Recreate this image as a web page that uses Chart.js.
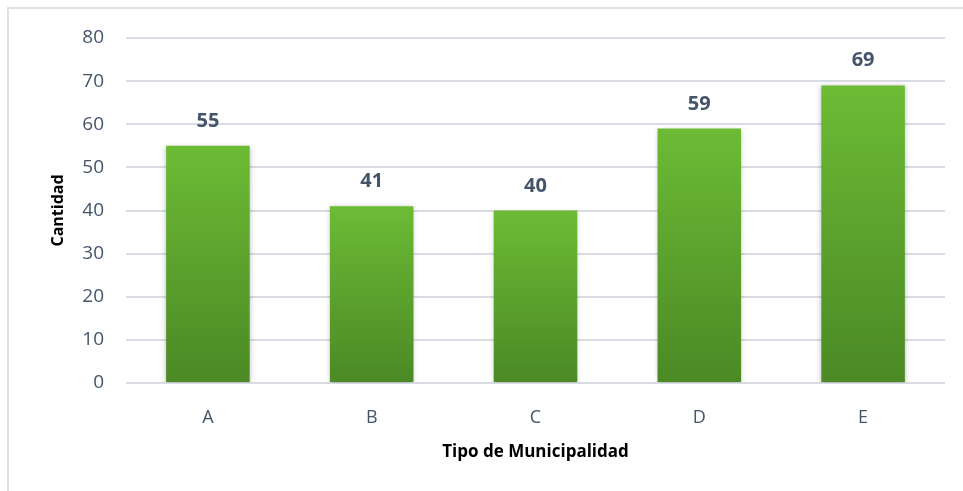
<!DOCTYPE html>
<html>
<head>
<meta charset="utf-8">
<script src="https://cdn.jsdelivr.net/npm/chart.js@4"></script>
<style>
  body { margin: 0; background: #fff; }
  #wrap { position: relative; width: 963px; height: 491px; }
  #frame { position: absolute; left: 7px; top: 7px; width: 980px; height: 500px;
           border-left: 2px solid #dde1e6; border-top: 2px solid #dde1e6; pointer-events: none; }
</style>
</head>
<body>
<div id="wrap">
  <canvas id="myChart" width="963" height="491"></canvas>
  <div id="frame"></div>
</div>
<script>
const categories = ['A', 'B', 'C', 'D', 'E'];
const values = [55, 41, 40, 59, 69];
const yTicks = [0, 10, 20, 30, 40, 50, 60, 70, 80];

const labelColor = '#44546A';

// gradient per bar, light on top, darker at the base
function barGradient(context) {
    const chart = context.chart;
    const yScale = chart.scales.y;
    if (!chart.chartArea || !yScale) return '#5fa52e';
    const top = yScale.getPixelForValue(values[context.dataIndex]);
    const bottom = yScale.getPixelForValue(0);
    const g = chart.ctx.createLinearGradient(0, top, 0, bottom);
    g.addColorStop(0, '#6cbb35');
    g.addColorStop(1, '#4b8925');
    return g;
}

const barShadow = {
    id: 'barShadow',
    beforeDatasetsDraw(chart) {
        const ctx = chart.ctx;
        ctx.save();
        ctx.shadowColor = 'rgba(0,0,0,0.28)';
        ctx.shadowBlur = 5;
        ctx.shadowOffsetX = 0;
        ctx.shadowOffsetY = 1;
    },
    afterDatasetsDraw(chart) {
        chart.ctx.restore();
    }
};

const valueLabels = {
    id: 'valueLabels',
    afterDraw(chart) {
        const ctx = chart.ctx;
        const meta = chart.getDatasetMeta(0);
        ctx.save();
        ctx.fillStyle = labelColor;
        ctx.font = 'bold 20px "Open Sans"';
        ctx.textAlign = 'center';
        ctx.textBaseline = 'alphabetic';
        meta.data.forEach((bar, i) => {
            ctx.fillText(String(values[i]), bar.x, bar.y - 19);
        });
        ctx.restore();
    }
};

new Chart(document.getElementById('myChart').getContext('2d'), {
    type: 'bar',
    data: {
        labels: categories,
        datasets: [{
            label: 'Cantidad',
            data: values,
            backgroundColor: barGradient,
            borderWidth: 0,
            categoryPercentage: 1,
            barPercentage: 0.51
        }]
    },
    options: {
        responsive: false,
        animation: false,
        devicePixelRatio: 1,
        layout: { padding: { top: 38, right: 18, left: 0, bottom: 0 } },
        plugins: {
            legend: { display: false },
            tooltip: { enabled: false }
        },
        scales: {
            x: {
                grid: { display: false, drawTicks: false },
                border: { display: false },
                ticks: { color: labelColor, font: { family: 'Open Sans', size: 18 }, padding: 24 },
                title: {
                    display: true,
                    text: 'Tipo de Municipalidad',
                    color: '#000',
                    font: { family: 'Open Sans', size: 17, weight: 'bold' },
                    padding: { top: 29, bottom: 29 }
                },
                afterFit(scale) { scale.height = 108; }
            },
            y: {
                z: 1,
                min: 0,
                max: 80,
                afterBuildTicks(scale) { scale.ticks = yTicks.map(v => ({ value: v })); },
                grid: { color: '#d9dde3', lineWidth: 2, drawTicks: false },
                border: { display: false },
                ticks: { color: labelColor, font: { family: 'Open Sans', size: 19 }, padding: 22 },
                title: {
                    display: true,
                    text: 'Cantidad',
                    color: '#000',
                    font: { family: 'Open Sans', size: 16, weight: 'bold' },
                    padding: { top: 49, bottom: 0 }
                },
                afterFit(scale) { scale.width = 126; }
            }
        }
    },
    plugins: [barShadow, valueLabels]
});
</script>
</body>
</html>
